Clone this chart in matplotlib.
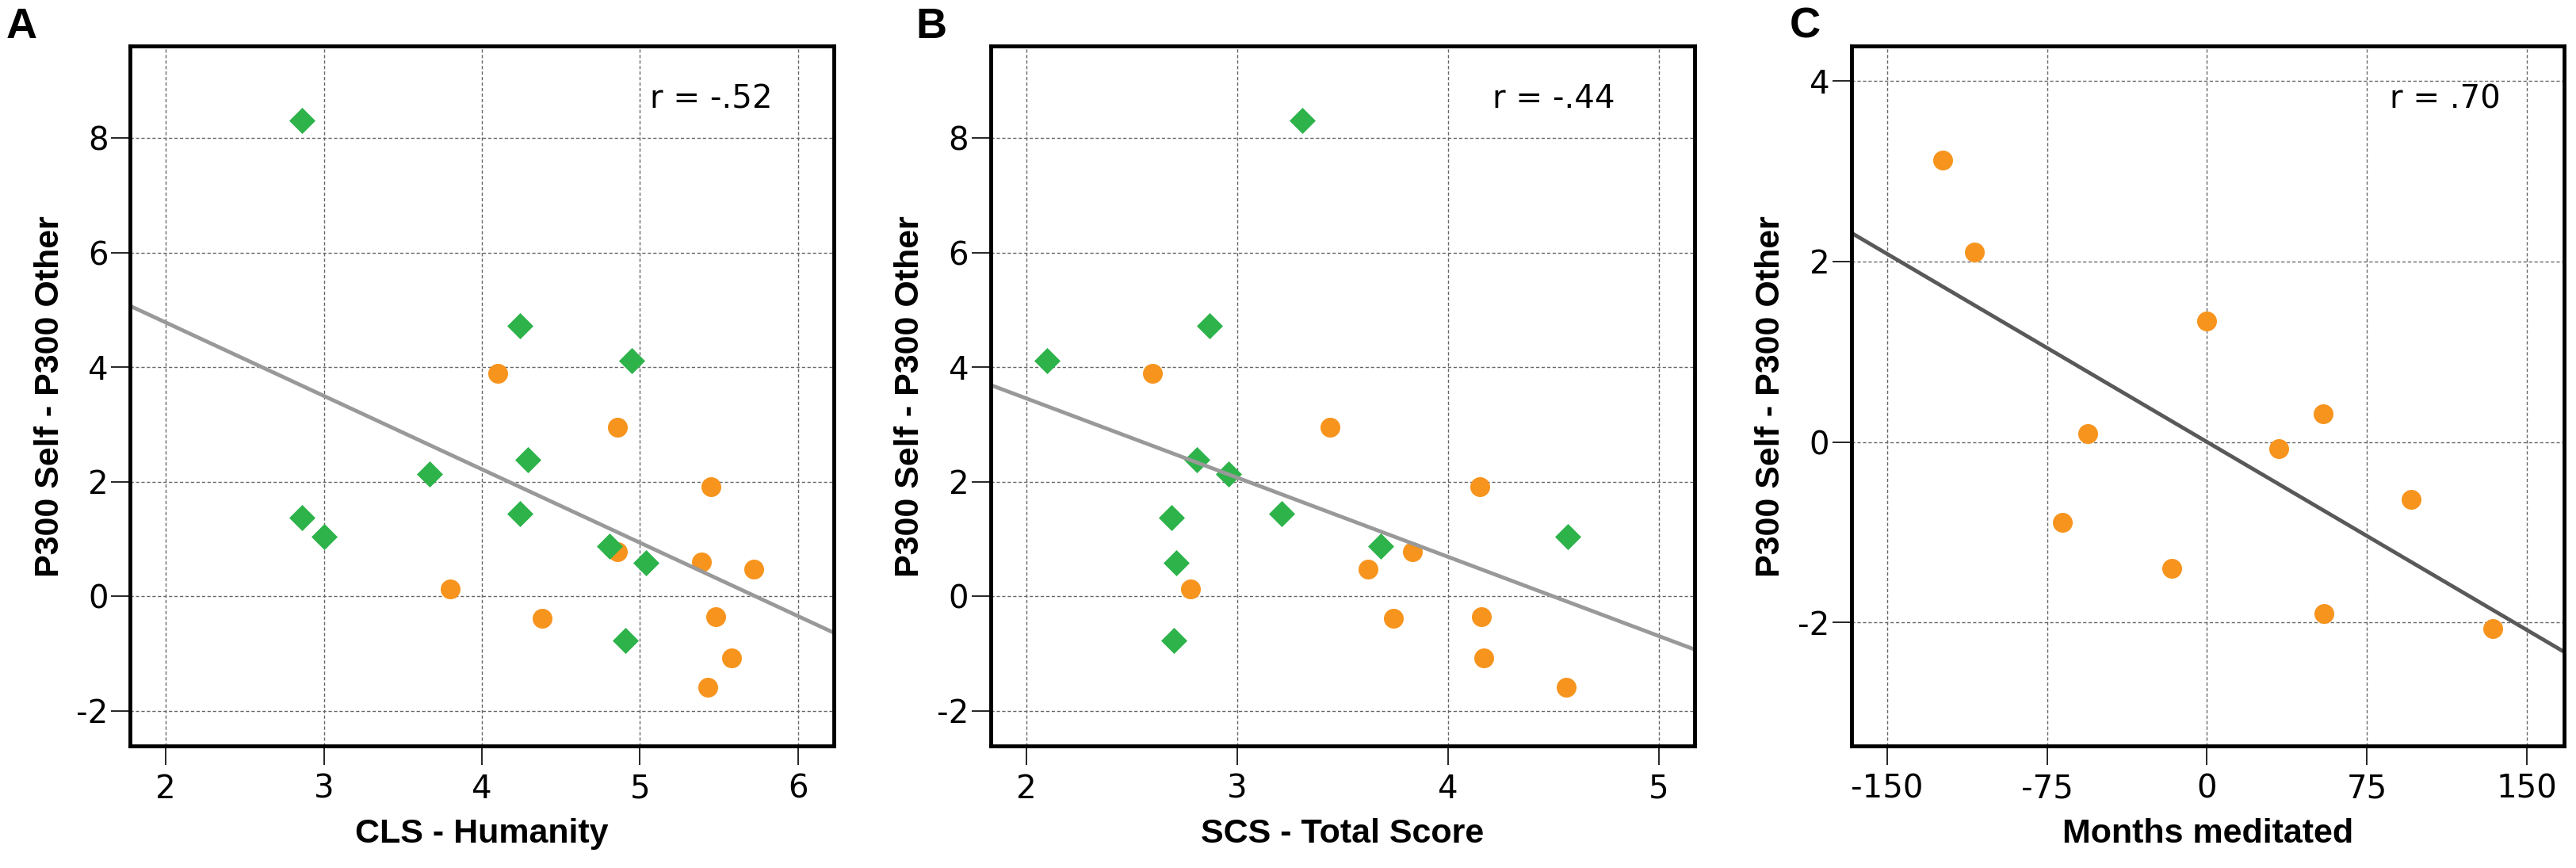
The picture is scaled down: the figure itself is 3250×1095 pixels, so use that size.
import numpy as np
import matplotlib
matplotlib.use("Agg")
import matplotlib.pyplot as plt

plt.rcParams['axes.unicode_minus'] = False
plt.rcParams['font.family'] = 'DejaVu Sans'

# ---- data ----
# y values shared by panels A and B (P300 Self - P300 Other)
diff_green = [8.30, 4.72, 4.11, 2.39, 2.14, 1.45, 1.37, 1.04, 0.87, 0.58, -0.77]
diff_orange = [3.89, 2.95, 1.92, 0.78, 0.60, 0.47, 0.13, -0.38, -0.35, -1.08, -1.58]

# panel A: CLS - Humanity
cls_green = [2.86, 4.24, 4.95, 4.29, 3.67, 4.24, 2.86, 3.00, 4.81, 5.04, 4.91]
cls_orange = [4.10, 4.86, 5.45, 4.86, 5.39, 5.72, 3.80, 4.38, 5.48, 5.58, 5.43]

# panel B: SCS - Total Score (one orange subject has no score here)
scs_green = [3.31, 2.87, 2.10, 2.81, 2.96, 3.21, 2.69, 4.57, 3.68, 2.71, 2.70]
scs_orange = [2.60, 3.44, 4.15, 3.83, 3.62, 2.78, 3.74, 4.16, 4.17, 4.56]
diff_orange_b = [3.89, 2.95, 1.92, 0.78, 0.47, 0.13, -0.38, -0.35, -1.08, -1.58]

# panel C: Months meditated (orange group only)
months = [-124.0, -109.1, 0.0, -56.1, 54.5, 33.7, 95.9, -67.8, -16.5, 55.0, 134.2]
diff_med = [3.125, 2.108, 1.344, 0.088, 0.309, -0.073, -0.633, -0.892, -1.404, -1.903, -2.069]

r_labels = ["r = -.52", "r = -.44", "r = .70"]
xlabels = ["CLS - Humanity", "SCS - Total Score", "Months meditated"]
ylabel = "P300 Self - P300 Other"
panel_letters = ["A", "B", "C"]

GREEN = '#2DB34A'
ORANGE = '#F7941D'
bold_font = 'Liberation Sans'

fig = plt.figure(figsize=(32.5, 10.95), dpi=100)

rects = [[0.0506, 0.1406, 0.2731, 0.806],
         [0.3846, 0.1406, 0.2731, 0.806],
         [0.7188, 0.1406, 0.2766, 0.806]]
letter_x = [8 / 3250, 1155 / 3250, 2258 / 3250]
r_x = [0.913, 0.887, 0.911]
xlims = [(1.775, 6.228), (1.831, 5.168), (-166.7, 167.5)]
ylims = [(-2.61, 9.6), (-2.61, 9.6), (-3.37, 4.385)]
xticks = [[2, 3, 4, 5, 6], [2, 3, 4, 5], [-150, -75, 0, 75, 150]]
yticks = [[-2, 0, 2, 4, 6, 8], [-2, 0, 2, 4, 6, 8], [-2, 0, 2, 4]]
line_colors = ['#999999', '#999999', '#595959']

for i in range(3):
    ax = fig.add_axes(rects[i])

    if i == 0:
        ax.scatter(cls_orange, diff_orange, s=324, marker='o', color=ORANGE, linewidths=0, zorder=3)
        ax.scatter(cls_green, diff_green, s=283, marker='D', color=GREEN, linewidths=0, zorder=3)
        xall = np.array(cls_green + cls_orange)
        yall = np.array(diff_green + diff_orange)
    elif i == 1:
        ax.scatter(scs_orange, diff_orange_b, s=324, marker='o', color=ORANGE, linewidths=0, zorder=3)
        ax.scatter(scs_green, diff_green, s=283, marker='D', color=GREEN, linewidths=0, zorder=3)
        xall = np.array(scs_green + scs_orange)
        yall = np.array(diff_green + diff_orange_b)
    else:
        ax.scatter(months, diff_med, s=324, marker='o', color=ORANGE, linewidths=0, zorder=3)
        xall = np.array(months)
        yall = np.array(diff_med)

    # least squares fit line across the whole axis
    coef = np.polyfit(xall, yall, 1)
    xl = np.array(xlims[i])
    ax.plot(xl, np.polyval(coef, xl), color=line_colors[i], linewidth=3.5, zorder=4,
            solid_capstyle='butt')

    ax.set_xlim(xlims[i])
    ax.set_ylim(ylims[i])
    ax.set_xticks(xticks[i])
    ax.set_yticks(yticks[i])
    ax.grid(True, color='#666666', linestyle=(0, (3, 2)), linewidth=1.0, zorder=1)
    ax.set_axisbelow(True)

    for sp in ax.spines.values():
        sp.set_linewidth(3.5)
        sp.set_color('black')
        sp.set_zorder(5)

    ax.tick_params(axis='both', direction='out', length=17, width=1.2, labelsize=29)
    ax.tick_params(axis='x', pad=8)
    ax.tick_params(axis='y', pad=3)

    ax.set_xlabel(xlabels[i], fontsize=31, fontweight='bold', family=bold_font, labelpad=12)
    ax.set_ylabel(ylabel, fontsize=31, fontweight='bold', family=bold_font, labelpad=10)

    ax.text(r_x[i], 0.912, r_labels[i], transform=ax.transAxes, ha='right', va='baseline',
            fontsize=29)

    fig.text(letter_x[i], 1 - 48 / 1095, panel_letters[i], fontsize=39, fontweight='bold',
             family=bold_font, va='baseline', ha='left')

fig.savefig("out.png", dpi=100)
